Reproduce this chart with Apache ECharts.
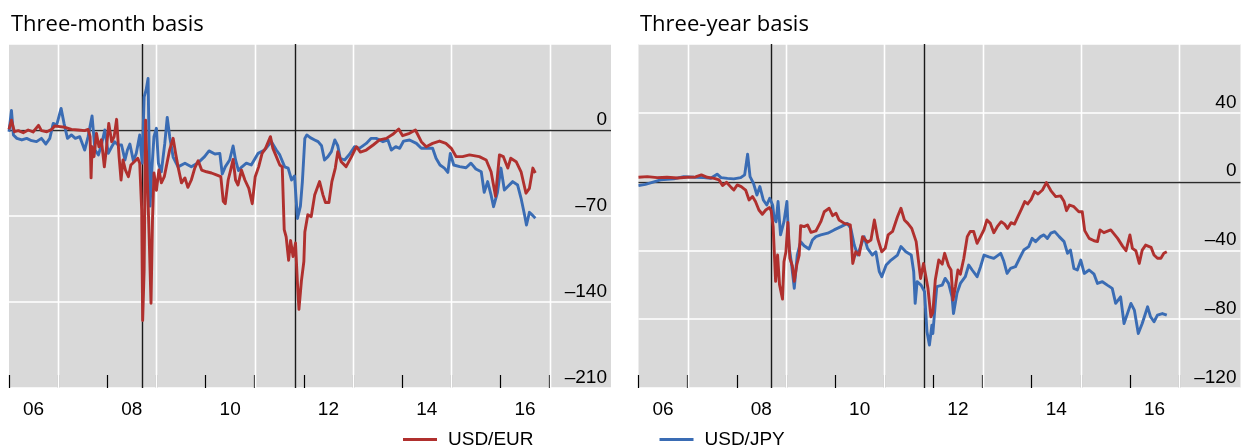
<!DOCTYPE html>
<html>
<head>
<meta charset="utf-8">
<script src="https://cdn.jsdelivr.net/npm/echarts@6/dist/echarts.min.js"></script>
<style>
  html, body { margin: 0; padding: 0; background: #fff; }
  #chart { width: 1249px; height: 445px; }
</style>
</head>
<body>
<div id="chart"></div>
<script>
// Cross-currency basis swap spreads, basis points (date as decimal year, value)
const usdEur3m = [[2006.00,0.5],[2006.05,8],[2006.11,-1.4],[2006.19,-0.5],[2006.29,-2.2],[2006.39,0],[2006.49,-1.6],[2006.60,3.8],[2006.66,-0.5],[2006.77,-1.4],[2006.87,0.5],[2006.93,3.3],[2007.04,2.7],[2007.14,2.2],[2007.27,0.5],[2007.41,0],[2007.54,-0.5],[2007.61,0.5],[2007.65,-5.4],[2007.67,-39],[2007.69,-13.6],[2007.73,-21.7],[2007.78,-2.7],[2007.83,-13.6],[2007.88,-8],[2007.94,-30],[2007.98,-16],[2008.03,5.4],[2008.09,-9.5],[2008.14,-5.4],[2008.19,8.7],[2008.24,-21.7],[2008.28,-40.7],[2008.32,-24.4],[2008.37,-32.6],[2008.43,-38],[2008.48,-28.5],[2008.55,-25.8],[2008.62,-23],[2008.66,-27],[2008.70,-65],[2008.72,-155],[2008.75,-114],[2008.78,8],[2008.81,-32.6],[2008.85,-84],[2008.89,-141],[2008.92,-73],[2008.95,-35],[2009.00,-49],[2009.05,-32.6],[2009.10,-43],[2009.16,-38],[2009.20,-30],[2009.27,-16],[2009.34,-6.8],[2009.39,-19],[2009.44,-30],[2009.51,-43],[2009.58,-39],[2009.64,-46.7],[2009.71,-40.7],[2009.78,-31],[2009.85,-25],[2009.92,-32.6],[2010.02,-34],[2010.12,-35],[2010.22,-36.6],[2010.31,-38],[2010.36,-58],[2010.40,-60],[2010.46,-40.7],[2010.51,-32.6],[2010.56,-24],[2010.61,-40.7],[2010.66,-44.8],[2010.73,-32.6],[2010.80,-40.7],[2010.88,-47.5],[2010.95,-60],[2011.01,-38],[2011.08,-30],[2011.15,-19],[2011.22,-15],[2011.32,-5.4],[2011.37,-15],[2011.44,-21.7],[2011.51,-28.5],[2011.56,-30],[2011.60,-81],[2011.64,-87],[2011.69,-106],[2011.73,-90],[2011.78,-103],[2011.83,-92],[2011.87,-125],[2011.90,-146],[2011.95,-123],[2012.00,-107],[2012.02,-83],[2012.08,-69],[2012.15,-70.5],[2012.22,-53],[2012.32,-42],[2012.39,-53],[2012.44,-59],[2012.51,-59],[2012.57,-42],[2012.64,-31],[2012.69,-17.6],[2012.76,-25.8],[2012.86,-29.8],[2012.97,-21.7],[2013.07,-13.6],[2013.15,-18],[2013.27,-16.3],[2013.41,-12.2],[2013.54,-8.1],[2013.68,-6.8],[2013.81,-3.5],[2013.93,0.8],[2014.01,-4.6],[2014.15,-2.7],[2014.27,0],[2014.39,-9.5],[2014.49,-13.6],[2014.62,-10.9],[2014.76,-9],[2014.89,-10.9],[2015.00,-14.9],[2015.10,-21.7],[2015.23,-21.7],[2015.37,-20.3],[2015.57,-21.7],[2015.71,-24.4],[2015.81,-34],[2015.90,-54],[2015.98,-20.3],[2016.06,-21.7],[2016.15,-31],[2016.21,-23],[2016.32,-25.8],[2016.42,-34],[2016.52,-51.5],[2016.59,-47.5],[2016.66,-31],[2016.71,-35]];

const usdJpy3m = [[2006.00,-1.4],[2006.05,16],[2006.09,-4],[2006.16,-6.8],[2006.26,-8.1],[2006.36,-6.8],[2006.46,-8.7],[2006.56,-9.5],[2006.66,-6.8],[2006.75,-11.4],[2006.83,-6.8],[2006.90,5.4],[2006.97,4],[2007.06,17.6],[2007.12,5.4],[2007.19,-6.8],[2007.27,-4],[2007.35,-6.8],[2007.44,-5.4],[2007.54,-16.3],[2007.61,-5.4],[2007.69,11.4],[2007.75,-16.3],[2007.82,-20.3],[2007.88,-12.2],[2007.95,0],[2008.02,-19],[2008.09,-13.6],[2008.15,-9.5],[2008.22,-12.2],[2008.29,-12.2],[2008.36,-24.4],[2008.41,-16.3],[2008.46,-11.4],[2008.53,-25],[2008.59,-19],[2008.66,-4],[2008.71,-27],[2008.75,27],[2008.79,32.6],[2008.83,42],[2008.87,-62],[2008.91,-30],[2008.95,-5.4],[2009.00,1.4],[2009.04,-27],[2009.10,-34],[2009.17,-10.9],[2009.22,10.3],[2009.27,-5.4],[2009.34,-22],[2009.44,-30],[2009.58,-27],[2009.71,-30],[2009.85,-26.6],[2009.98,-21.7],[2010.07,-17],[2010.19,-19.5],[2010.29,-19],[2010.34,-35.8],[2010.40,-30],[2010.49,-24.4],[2010.56,-13],[2010.61,-24.4],[2010.67,-33],[2010.74,-30],[2010.83,-27],[2010.93,-28.5],[2011.07,-19],[2011.20,-16.3],[2011.34,-9.5],[2011.44,-16.3],[2011.51,-20.3],[2011.61,-30],[2011.68,-31],[2011.75,-40.7],[2011.81,-37.4],[2011.87,-72],[2011.93,-62],[2011.97,-42],[2012.02,-6.8],[2012.06,-4],[2012.13,-6.2],[2012.22,-8.1],[2012.29,-9.5],[2012.36,-12.8],[2012.42,-24.4],[2012.49,-21.7],[2012.56,-17.6],[2012.63,-8.1],[2012.69,-12.8],[2012.74,-23],[2012.83,-24.4],[2012.93,-19.8],[2013.03,-13.6],[2013.13,-14.9],[2013.27,-10.9],[2013.37,-6.8],[2013.47,-6.8],[2013.61,-9.5],[2013.71,-8.1],[2013.78,-16.3],[2013.87,-13.6],[2013.95,-14.9],[2014.03,-9],[2014.15,-8.1],[2014.29,-10.9],[2014.39,-14.9],[2014.49,-14.9],[2014.62,-14.9],[2014.69,-23],[2014.77,-28.5],[2014.86,-31],[2014.93,-34.5],[2014.98,-19],[2015.05,-28.5],[2015.17,-29.8],[2015.30,-30.7],[2015.40,-27],[2015.50,-31.7],[2015.61,-34],[2015.67,-50.7],[2015.74,-42],[2015.81,-53],[2015.86,-62.4],[2015.94,-50.7],[2016.01,-31],[2016.08,-48.8],[2016.15,-46],[2016.25,-42],[2016.35,-44.8],[2016.42,-55.6],[2016.49,-69],[2016.53,-77.3],[2016.59,-67],[2016.66,-69.7],[2016.71,-71.9]];

const usdEur3y = [[2006.00,2.5],[2006.18,2.9],[2006.38,2.3],[2006.58,2.5],[2006.79,2.1],[2006.99,2.5],[2007.16,2.7],[2007.28,3.9],[2007.40,2.5],[2007.54,1.9],[2007.64,1],[2007.71,-2.3],[2007.79,-0.4],[2007.89,-3.5],[2007.94,-4.9],[2008.01,-1.9],[2008.09,-2.9],[2008.18,-4.9],[2008.25,-10.7],[2008.32,-8.7],[2008.38,-11.6],[2008.45,-16.5],[2008.52,-19],[2008.59,-16.5],[2008.66,-15.1],[2008.70,-17],[2008.74,-26.2],[2008.79,-58],[2008.83,-42.7],[2008.87,-60],[2008.93,-68.3],[2008.96,-46.6],[2009.00,-40.8],[2009.04,-23.7],[2009.08,-44.6],[2009.13,-48.9],[2009.17,-58],[2009.22,-48.5],[2009.27,-42.7],[2009.30,-25.6],[2009.37,-26.2],[2009.44,-25.2],[2009.51,-29.5],[2009.61,-28.7],[2009.71,-23.3],[2009.78,-17.5],[2009.88,-15.5],[2009.95,-19.8],[2010.02,-18.4],[2010.08,-22.3],[2010.19,-24.3],[2010.31,-25.2],[2010.36,-47.6],[2010.42,-40.8],[2010.49,-42.7],[2010.56,-32],[2010.66,-35.3],[2010.73,-34],[2010.80,-22.3],[2010.87,-33.4],[2010.95,-40.8],[2011.02,-38.8],[2011.08,-31],[2011.17,-29],[2011.27,-20.4],[2011.34,-15.5],[2011.41,-22.3],[2011.48,-24.3],[2011.56,-27.2],[2011.65,-34.9],[2011.74,-56.3],[2011.80,-47.6],[2011.89,-62],[2011.95,-78.6],[2011.99,-76],[2012.04,-57],[2012.11,-45.6],[2012.18,-48],[2012.23,-41.7],[2012.31,-49],[2012.36,-51.4],[2012.40,-68.9],[2012.45,-61],[2012.50,-51.4],[2012.55,-53.8],[2012.62,-44.6],[2012.69,-32],[2012.75,-29],[2012.82,-29],[2012.89,-35.9],[2012.96,-32],[2013.03,-28],[2013.09,-22.3],[2013.16,-24.3],[2013.23,-29.7],[2013.30,-26.2],[2013.38,-23.3],[2013.45,-24.7],[2013.51,-27.2],[2013.58,-23.9],[2013.65,-24.7],[2013.72,-20.4],[2013.79,-16.1],[2013.86,-11.6],[2013.92,-13],[2013.99,-10.3],[2014.06,-5.8],[2014.13,-7.2],[2014.22,-4.9],[2014.30,-0.6],[2014.39,-5.2],[2014.49,-8.7],[2014.59,-8.3],[2014.66,-11.6],[2014.71,-16.9],[2014.77,-13.6],[2014.86,-14.6],[2014.96,-17.5],[2015.03,-17.5],[2015.08,-28.5],[2015.17,-33],[2015.27,-34.4],[2015.34,-34.9],[2015.39,-28.1],[2015.47,-29.7],[2015.61,-28.1],[2015.68,-30.5],[2015.75,-33],[2015.85,-37.5],[2015.92,-40.2],[2016.00,-31],[2016.05,-38.8],[2016.12,-40.2],[2016.19,-47.6],[2016.25,-39.8],[2016.32,-36.9],[2016.43,-38.2],[2016.49,-42.7],[2016.56,-44.6],[2016.63,-44.6],[2016.69,-41.7],[2016.75,-40.8]];

const usdJpy3y = [[2006.00,-2.3],[2006.14,-1.6],[2006.28,-0.4],[2006.45,1],[2006.58,1.4],[2006.72,1.6],[2006.92,2.9],[2007.13,2.5],[2007.33,2.3],[2007.47,1.9],[2007.60,4.3],[2007.68,2.3],[2007.81,1.9],[2007.94,1.6],[2008.08,2.3],[2008.16,3.9],[2008.22,15.9],[2008.27,2.9],[2008.34,-1],[2008.41,-7.8],[2008.47,-2.9],[2008.54,-10.7],[2008.61,-13.6],[2008.67,-9.7],[2008.73,-13.6],[2008.76,-21.4],[2008.80,-23.3],[2008.84,-11.6],[2008.89,-31],[2008.96,-23.3],[2009.02,-11.6],[2009.06,-36.9],[2009.11,-47],[2009.17,-62],[2009.23,-42.7],[2009.30,-35],[2009.37,-37.3],[2009.47,-39.2],[2009.54,-34],[2009.61,-32],[2009.71,-31],[2009.85,-30],[2009.98,-28.1],[2010.12,-26.2],[2010.25,-24.3],[2010.32,-27.2],[2010.39,-36.9],[2010.46,-42.7],[2010.53,-36.9],[2010.59,-32],[2010.66,-38.8],[2010.76,-42.7],[2010.83,-40.8],[2010.90,-52.4],[2010.95,-55.3],[2011.04,-48.5],[2011.14,-45.6],[2011.27,-42.7],[2011.34,-37.8],[2011.44,-40.8],[2011.55,-42.7],[2011.60,-52.4],[2011.63,-70.8],[2011.67,-58.2],[2011.75,-60.2],[2011.82,-64],[2011.87,-87.3],[2011.92,-95],[2011.97,-83.5],[2011.99,-88.3],[2012.04,-70.8],[2012.07,-61.1],[2012.18,-60.2],[2012.24,-56.3],[2012.31,-59.2],[2012.38,-67],[2012.41,-76.7],[2012.48,-65],[2012.55,-59.2],[2012.65,-55.3],[2012.72,-48.5],[2012.79,-51.4],[2012.89,-55.3],[2012.96,-49.5],[2013.03,-42.7],[2013.13,-43.7],[2013.23,-44.6],[2013.37,-41.7],[2013.43,-46],[2013.50,-53.4],[2013.57,-50.5],[2013.67,-49.5],[2013.77,-43.7],[2013.84,-39.8],[2013.94,-37.8],[2014.01,-33],[2014.08,-34.9],[2014.18,-32],[2014.25,-31],[2014.32,-33],[2014.39,-30],[2014.47,-29.1],[2014.56,-32],[2014.66,-34.9],[2014.73,-41.7],[2014.79,-39.8],[2014.86,-50.5],[2014.93,-51.4],[2015.00,-45.6],[2015.07,-53.4],[2015.17,-51.4],[2015.27,-53.8],[2015.34,-59.2],[2015.44,-58.2],[2015.54,-60.2],[2015.64,-62.1],[2015.71,-70.8],[2015.81,-67],[2015.88,-82.5],[2015.95,-76.7],[2016.02,-70.8],[2016.09,-74.7],[2016.17,-88.3],[2016.25,-82.5],[2016.36,-72.8],[2016.42,-78.6],[2016.49,-81.5],[2016.56,-77.6],[2016.66,-76.7],[2016.75,-77.6]];

// Year boundaries (tick marks), mid-year label positions and label text
const yearTicks = [2006, 2007, 2008, 2009, 2010, 2011, 2012, 2013, 2014, 2015, 2016, 2017];
const labelYears = [2006.5, 2008.5, 2010.5, 2012.5, 2014.5, 2016.5];
const yearLabels = ['06', '08', '10', '12', '14', '16'];
const gridYears = [2007, 2009, 2011, 2013, 2015, 2017];
// Vertical event markers: Lehman Brothers (Sep 2008) and late 2011
const eventDates = [2008.70, 2011.81];

const panelTitles = ['Three-month basis', 'Three-year basis'];
const seriesNames = ['USD/EUR', 'USD/JPY'];

const RED = '#b0302e';
const BLUE = '#3a6cb4';
const LABEL_FONT = '"Liberation Sans", Arial, sans-serif';
const TITLE_FONT = '"Open Sans", "Noto Sans", sans-serif';

const chart = echarts.init(document.getElementById('chart'), null, { renderer: 'canvas' });

function xAxisFor(gridIndex) {
  return {
    type: 'value', gridIndex: gridIndex, min: 2006, max: 2018.25,
    position: 'bottom',
    axisLine: { show: false, onZero: false },
    splitLine: { show: false },
    axisTick: {
      show: true, inside: true, length: 13, customValues: yearTicks,
      lineStyle: { color: '#000', width: 1.2 }
    },
    axisLabel: {
      show: true, customValues: labelYears, margin: 12,
      fontFamily: LABEL_FONT, fontSize: 19, color: '#000',
      formatter: function (v) {
        const i = labelYears.indexOf(v);
        return i >= 0 ? yearLabels[i] : '';
      }
    }
  };
}

function yAxisFor(gridIndex, min, max, interval) {
  return {
    type: 'value', gridIndex: gridIndex, position: 'right',
    min: min, max: max, interval: interval,
    axisLine: { show: false },
    axisTick: { show: false },
    splitLine: { show: true, lineStyle: { color: '#ffffff', width: 1.6 } },
    axisLabel: {
      inside: true, margin: 4, showMaxLabel: false,
      verticalAlign: 'bottom', padding: [0, 0, 1, 0],
      fontFamily: LABEL_FONT, fontSize: 19, color: '#000',
      formatter: function (v) { return String(v).replace('-', '\u2013'); }
    }
  };
}

// Full-height vertical rules (white year gridlines, dark event markers) drawn beneath the data
function verticalRules(gridIndex, years, color, width) {
  return {
    type: 'custom', xAxisIndex: gridIndex, yAxisIndex: gridIndex,
    silent: true, z: 1, animation: false, clip: false,
    data: years.map(function (y) { return [y]; }),
    encode: { x: 0 },
    renderItem: function (params, api) {
      const cs = params.coordSys;
      const x = Math.round(api.coord([api.value(0), 0])[0]) + 0.5;
      return {
        type: 'line',
        shape: { x1: x, y1: cs.y, x2: x, y2: cs.y + cs.height },
        style: { stroke: color, lineWidth: width }
      };
    }
  };
}

// Horizontal zero line across the plot
function zeroRule(gridIndex) {
  return {
    type: 'custom', xAxisIndex: gridIndex, yAxisIndex: gridIndex,
    silent: true, z: 1, animation: false, clip: false,
    data: [[0]],
    encode: { y: 0 },
    renderItem: function (params, api) {
      const cs = params.coordSys;
      const y = Math.round(api.coord([2006, api.value(0)])[1]) + 0.5;
      return {
        type: 'line',
        shape: { x1: cs.x, y1: y, x2: cs.x + cs.width, y2: y },
        style: { stroke: '#2b2b2b', lineWidth: 1.6 }
      };
    }
  };
}

function dataSeries(name, gridIndex, data, color) {
  return {
    name: name, type: 'line', xAxisIndex: gridIndex, yAxisIndex: gridIndex,
    data: data, showSymbol: false, symbol: 'none', z: 3,
    lineStyle: { color: color, width: 2.9, join: 'round' },
    itemStyle: { color: color },
    animation: false
  };
}

chart.setOption({
  animation: false,
  title: [
    { text: panelTitles[0], left: 6, top: 9, textStyle: { fontFamily: TITLE_FONT, fontSize: 22, fontWeight: 'normal', color: '#000' } },
    { text: panelTitles[1], left: 635, top: 9, textStyle: { fontFamily: TITLE_FONT, fontSize: 22, fontWeight: 'normal', color: '#000' } }
  ],
  legend: {
    data: seriesNames, left: 398, top: 425, icon: 'rect',
    itemWidth: 34, itemHeight: 3, itemGap: 126,
    textStyle: { fontFamily: LABEL_FONT, fontSize: 19, color: '#000', padding: [0, 0, 0, 6] }
  },
  grid: [
    { left: 9, top: 44, width: 602, height: 344, show: true, backgroundColor: '#d9d9d9', borderWidth: 0, containLabel: false },
    { left: 638.5, top: 44, width: 602, height: 344, show: true, backgroundColor: '#d9d9d9', borderWidth: 0, containLabel: false }
  ],
  xAxis: [xAxisFor(0), xAxisFor(1)],
  yAxis: [yAxisFor(0, -210, 70, 70), yAxisFor(1, -120, 80, 40)],
  series: [
    verticalRules(0, gridYears, '#ffffff', 1.6),
    verticalRules(1, gridYears, '#ffffff', 1.6),
    zeroRule(0),
    zeroRule(1),
    verticalRules(0, eventDates, '#1a1a1a', 1.4),
    verticalRules(1, eventDates, '#1a1a1a', 1.4),
    dataSeries(seriesNames[1], 0, usdJpy3m, BLUE),
    dataSeries(seriesNames[0], 0, usdEur3m, RED),
    dataSeries(seriesNames[1], 1, usdJpy3y, BLUE),
    dataSeries(seriesNames[0], 1, usdEur3y, RED)
  ]
});
</script>
</body>
</html>
